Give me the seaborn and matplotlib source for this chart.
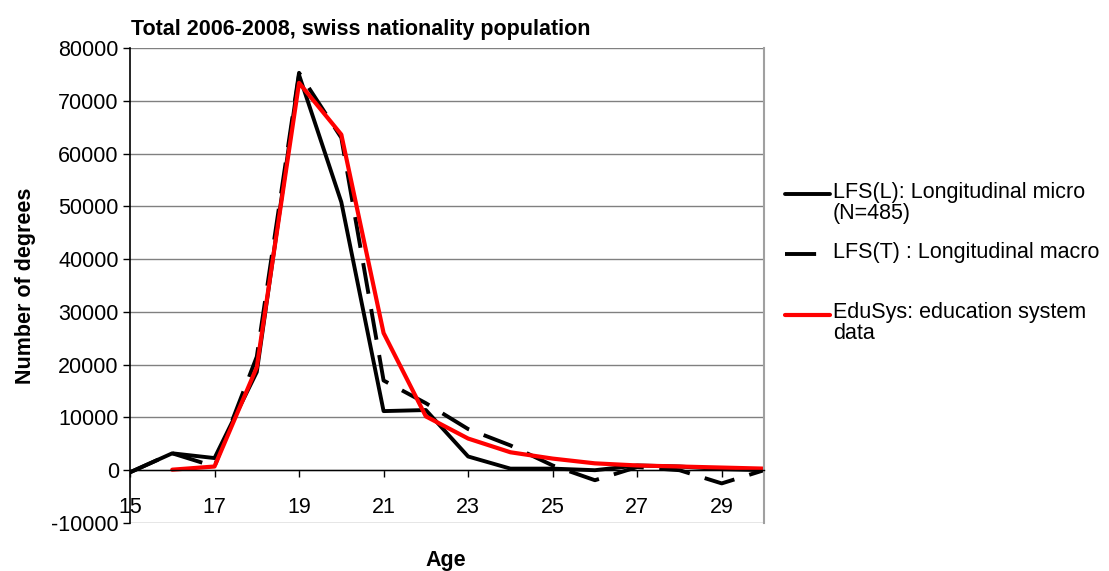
import matplotlib
matplotlib.use("Agg")
import matplotlib.pyplot as plt
import seaborn as sns
import pandas as pd

# ─── Data ────────────────────────────────────────────────────────────────────
ages = list(range(15, 31))
lfs_l = [-400, 3200, 2300, 18600, 74900, 50800, 11200, 11400, 2600, 300, 300,
         0, 900, 700, 200, 0]
lfs_t = [-400, 3200, 700, 21500, 75300, 63000, 17000, 12700, 7800, 4700, 900,
         -1900, 600, 0, -2500, 0]
edu_ages = list(range(16, 31))
edusys = [100, 700, 19500, 73400, 63600, 26000, 10200, 6000, 3400, 2200, 1300,
          900, 700, 500, 300]

labels = ["LFS(L): Longitudinal micro\n(N=485)",
          "LFS(T) : Longitudinal macro\n",
          "EduSys: education system\ndata"]

df_l = pd.DataFrame({"age": ages, "n": lfs_l})
df_t = pd.DataFrame({"age": ages, "n": lfs_t})
df_e = pd.DataFrame({"age": edu_ages, "n": edusys})

sns.set_style("white")
plt.rcParams["font.family"] = ["Liberation Sans", "DejaVu Sans"]
plt.rcParams["axes.unicode_minus"] = False
plt.rcParams["text.color"] = "black"
plt.rcParams["axes.labelcolor"] = "black"
plt.rcParams["xtick.color"] = "black"
plt.rcParams["ytick.color"] = "black"
FS = 15.5

fig = plt.figure(figsize=(11.09, 5.71), dpi=100)
ax = fig.add_axes([0.1172, 0.0841, 0.5717, 0.8318])

sns.lineplot(data=df_l, x="age", y="n", color="black", linewidth=2.8,
             label=labels[0], ax=ax)
sns.lineplot(data=df_t, x="age", y="n", color="black", linewidth=2.8,
             linestyle=(0, (8, 4)), label=labels[1], ax=ax)
sns.lineplot(data=df_e, x="age", y="n", color="#ff0000", linewidth=3.0,
             label=labels[2], ax=ax)

ax.set_xlim(15, 30)
ax.set_ylim(-10000, 80000)
ax.set_xticks(range(15, 31, 2))
ax.set_yticks(range(-10000, 80001, 10000))
ax.yaxis.grid(True, color="#808080", linewidth=1.0)
ax.set_axisbelow(True)

ax.spines["bottom"].set_position(("data", 0))
ax.spines["bottom"].set_color("black")
ax.spines["bottom"].set_linewidth(1.0)
ax.spines["left"].set_color("black")
ax.spines["left"].set_linewidth(1.2)
ax.spines["top"].set_visible(False)
ax.spines["right"].set_color("#a0a0a0")
ax.spines["right"].set_linewidth(1.5)

ax.tick_params(axis="x", direction="out", length=5, width=1, pad=14,
               labelsize=FS, bottom=True)
ax.tick_params(axis="y", direction="out", length=5, width=1, pad=3,
               labelsize=FS, left=True)

ax.set_xlabel("")
ax.set_ylabel("Number of degrees", fontsize=FS, fontweight="bold", labelpad=11)
fig.text(0.402, 0.009, "Age", fontsize=FS, fontweight="bold", ha="center",
         va="baseline")
fig.text(0.118, 0.939, "Total 2006-2008, swiss nationality population",
         fontsize=FS, fontweight="bold", ha="left", va="baseline")

leg = ax.legend(loc="upper left", bbox_to_anchor=(1.019, 0.737), frameon=False,
                fontsize=FS, handlelength=2.1, handletextpad=0.15,
                labelspacing=0.85, borderaxespad=0)
for t in leg.get_texts():
    t.set_linespacing(1.0)
# Excel puts the key line next to the first line of each label
for ln in leg.get_lines():
    ln.set_ydata([y + 6.5 for y in ln.get_ydata()])

fig.savefig("out.png", dpi=100)
